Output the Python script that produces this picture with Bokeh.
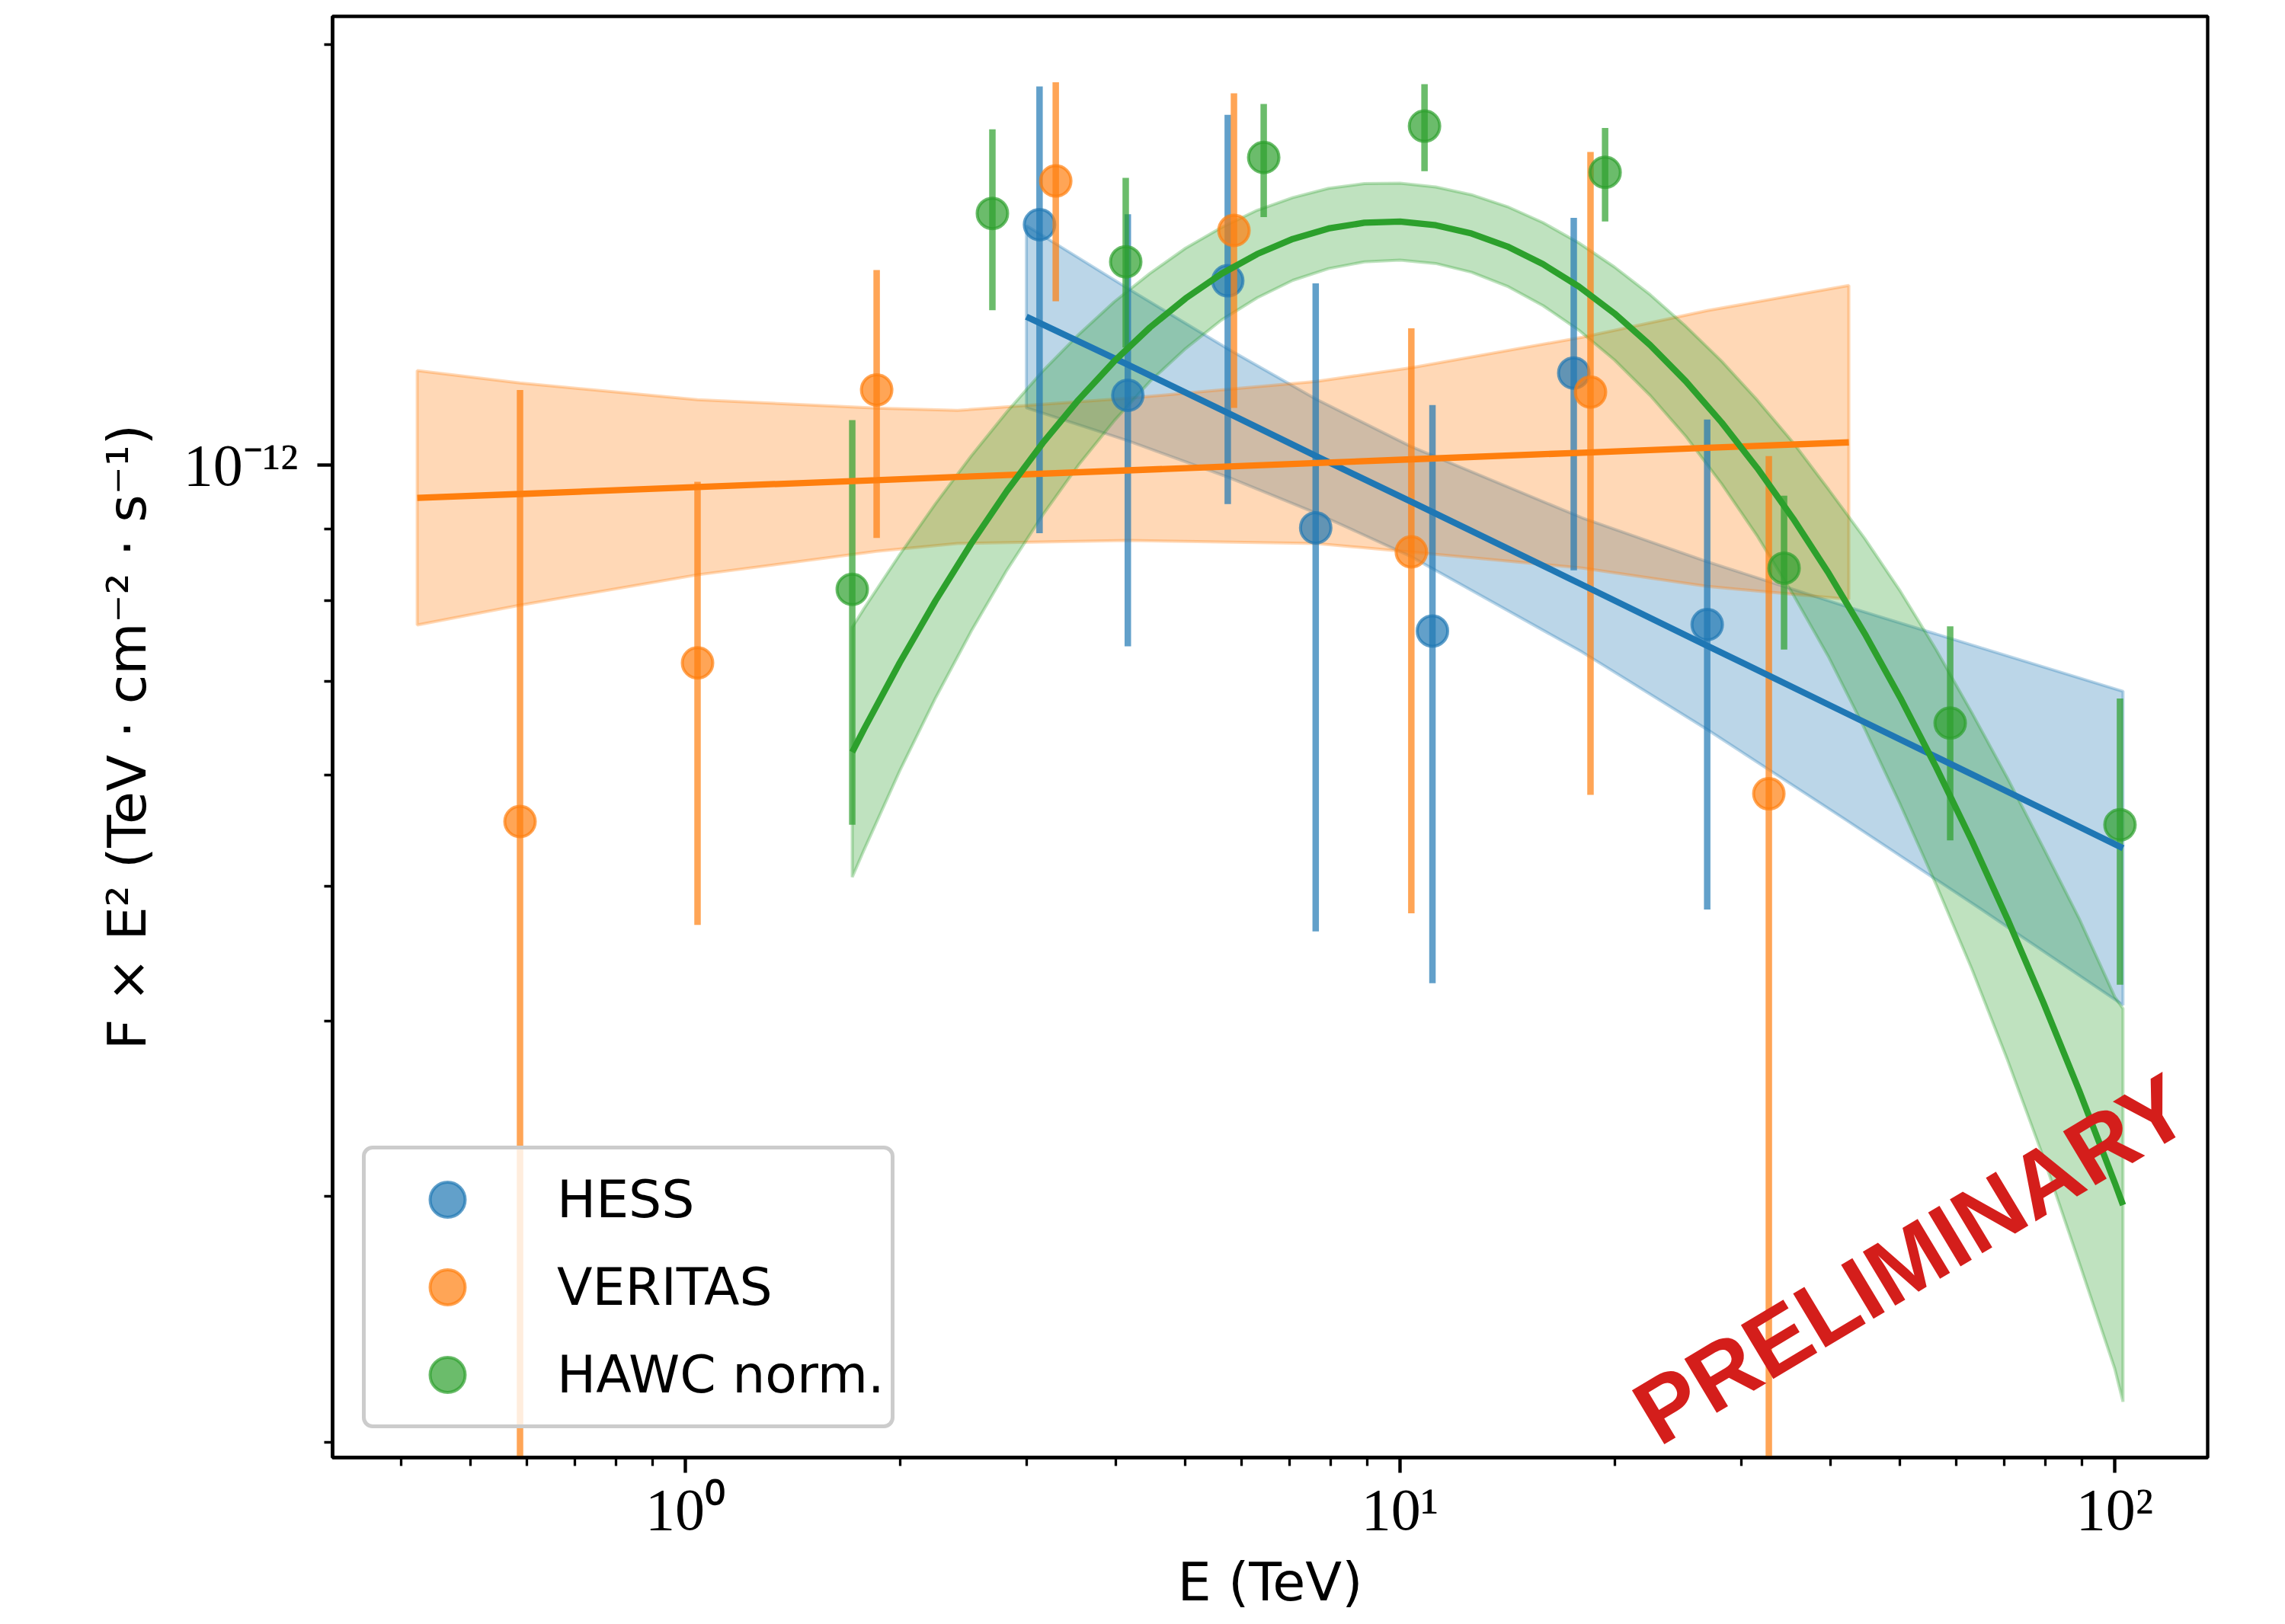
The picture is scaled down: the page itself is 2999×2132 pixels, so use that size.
from bokeh.plotting import figure
from bokeh.models import Range1d, FixedTicker, Legend, LegendItem, Label
from bokeh.embed import file_html
from bokeh.resources import INLINE

# ---------------- data (flux values in units of 1e-12 TeV cm^-2 s^-1) ----------------
SCALE = 1e-12

hess_E  = [3.13, 4.16, 5.74, 7.62, 11.1, 17.5, 26.9]
hess_F  = [1.486, 1.122, 1.355, 0.902, 0.761, 1.164, 0.769]
hess_hi = [1.866, 1.512, 1.781, 1.349, 1.104, 1.503, 1.078]
hess_lo = [0.894, 0.742, 0.938, 0.464, 0.426, 0.841, 0.481]

veritas_E  = [0.587, 1.040, 1.852, 3.298, 5.856, 10.37, 18.47, 32.81]
veritas_F  = [0.556, 0.722, 1.132, 1.597, 1.472, 0.867, 1.128, 0.582]
veritas_hi = [1.132, 0.973, 1.379, 1.879, 1.845, 1.253, 1.675, 1.015]
veritas_lo = [0.010, 0.469, 0.887, 1.310, 1.099, 0.478, 0.581, 0.010]

hawc_E  = [1.712, 2.689, 4.132, 6.445, 10.82, 19.36, 34.46, 58.85, 101.7]
hawc_F  = [0.815, 1.514, 1.398, 1.660, 1.748, 1.620, 0.844, 0.654, 0.553]
hawc_hi = [1.077, 1.739, 1.605, 1.813, 1.873, 1.743, 0.951, 0.767, 0.681]
hawc_lo = [0.553, 1.291, 1.214, 1.505, 1.623, 1.494, 0.738, 0.539, 0.425]

# fitted models: line and band edges
hess_fit_E  = [3.00, 4.16, 5.76, 7.63, 10.37, 17.98, 26.90, 41.94, 65.09, 102.7]
hess_fit_F  = [1.277, 1.180, 1.089, 1.015, 0.9415, 0.8213, 0.7428, 0.6652, 0.5964, 0.5321]
hess_fit_hi = [1.484, 1.338, 1.210, 1.115, 1.031, 0.917, 0.853, 0.793, 0.740, 0.689]
hess_fit_lo = [1.099, 1.041, 0.980, 0.924, 0.860, 0.735, 0.647, 0.558, 0.481, 0.411]

veritas_fit_E  = [0.4215, 0.587, 1.040, 1.852, 2.403, 4.163, 7.633, 10.37, 17.98, 26.90, 42.46]
veritas_fit_F  = [0.9475, 0.9537, 0.9646, 0.9757, 0.9808, 0.9915, 1.0035, 1.0097, 1.0208, 1.0290, 1.0383]
veritas_fit_hi = [1.1685, 1.1451, 1.1138, 1.0987, 1.0945, 1.1166, 1.1480, 1.1742, 1.2346, 1.2899, 1.3445]
veritas_fit_lo = [0.7686, 0.7940, 0.8348, 0.8678, 0.8789, 0.8833, 0.8789, 0.8667, 0.8442, 0.8190, 0.8017]

hawc_fit_E  = [1.712, 1.778, 1.995, 2.239, 2.512, 2.818, 3.162, 3.548, 3.981, 4.467,
               5.012, 5.623, 6.310, 7.079, 7.943, 8.913, 10.00, 11.22, 12.59, 14.13,
               15.85, 17.78, 19.95, 22.39, 25.12, 28.18, 31.62, 35.48, 39.81, 44.67,
               50.12, 56.23, 63.10, 70.79, 79.43, 89.13, 100.0, 102.7]
hawc_fit_F  = [0.6233, 0.6473, 0.7223, 0.7999, 0.8790, 0.9585, 1.0371, 1.1135, 1.1866, 1.2547,
               1.3163, 1.3705, 1.4159, 1.4516, 1.4768, 1.4909, 1.4936, 1.4847, 1.4646, 1.4337,
               1.3926, 1.3424, 1.2840, 1.2187, 1.1479, 1.0729, 0.9950, 0.9158, 0.8364, 0.7580,
               0.6816, 0.6083, 0.5387, 0.4734, 0.4128, 0.3572, 0.3067, 0.2956]
hawc_fit_hi = [0.7657, 0.7897, 0.8631, 0.9387, 1.0154, 1.0919, 1.1676, 1.2397, 1.3087, 1.3715,
               1.4298, 1.4790, 1.5218, 1.5539, 1.5777, 1.5900, 1.5914, 1.5812, 1.5611, 1.5309,
               1.4911, 1.4424, 1.3861, 1.3242, 1.2567, 1.1870, 1.1129, 1.0379, 0.9602, 0.8866,
               0.8125, 0.7381, 0.6652, 0.5971, 0.5325, 0.4741, 0.4166, 0.4086]
hawc_fit_lo = [0.5074, 0.5306, 0.6045, 0.6816, 0.7609, 0.8414, 0.9212, 1.0002, 1.0759, 1.1478,
               1.2118, 1.2699, 1.3174, 1.3560, 1.3824, 1.3979, 1.4018, 1.3941, 1.3741, 1.3427,
               1.3006, 1.2493, 1.1894, 1.1216, 1.0485, 0.9698, 0.8896, 0.8081, 0.7286, 0.6480,
               0.5718, 0.5013, 0.4362, 0.3754, 0.3200, 0.2691, 0.2258, 0.2138]

# axes ticks
x_major = [1, 10, 100]
x_major_labels = ["10⁰", "10¹", "10²"]
x_minor = [0.4, 0.5, 0.6, 0.7, 0.8, 0.9, 2, 3, 4, 5, 6, 7, 8, 9, 20, 30, 40, 50, 60, 70, 80, 90]
y_major = [1e-12]
y_major_labels = ["10⁻¹²"]
y_minor = [2e-13, 3e-13, 4e-13, 5e-13, 6e-13, 7e-13, 8e-13, 9e-13, 2e-12]

series_names = ["HESS", "VERITAS", "HAWC norm."]
colors = ["#1f77b4", "#ff7f0e", "#2ca02c"]

# ---------------- figure ----------------
W, H = 2996, 2130
FRAME_L, FRAME_T, FRAME_R, FRAME_B = 436, 21, 2897, 1913
p = figure(width=W, height=H, x_axis_type="log", y_axis_type="log",
           x_range=Range1d(0.3209, 134.9), y_range=Range1d(1.9503e-13, 2.0944e-12),
           output_backend="svg", toolbar_location=None,
           min_border_left=FRAME_L, min_border_right=W - FRAME_R,
           min_border_top=FRAME_T, min_border_bottom=H - FRAME_B)
p.xgrid.visible = False
p.ygrid.visible = False
p.outline_line_color = "black"
p.outline_line_width = 4.4
p.outline_line_alpha = 1.0
p.background_fill_color = "white"
p.border_fill_color = "white"


def sc(v):
    return [a * SCALE for a in v]


# bands
fits = [
    (hess_fit_E, hess_fit_F, hess_fit_lo, hess_fit_hi),
    (veritas_fit_E, veritas_fit_F, veritas_fit_lo, veritas_fit_hi),
    (hawc_fit_E, hawc_fit_F, hawc_fit_lo, hawc_fit_hi),
]
for (E, F, lo, hi), c in zip(fits, colors):
    xs = list(E) + list(E[::-1])
    ys = sc(hi) + sc(lo[::-1])
    p.patch(xs, ys, fill_color=c, fill_alpha=0.3, line_color=c, line_alpha=0.3, line_width=4)

# data points with error bars
points = [
    (hess_E, hess_F, hess_lo, hess_hi),
    (veritas_E, veritas_F, veritas_lo, veritas_hi),
    (hawc_E, hawc_F, hawc_lo, hawc_hi),
]
legend_items = []
for (E, F, lo, hi), c, name in zip(points, colors, series_names):
    p.segment(x0=E, y0=sc(lo), x1=E, y1=sc(hi), line_color=c, line_alpha=0.7, line_width=8.5)
    pts = p.scatter(E, sc(F), marker="circle", size=40, fill_color=c, fill_alpha=0.7,
                    line_color=c, line_alpha=0.7, line_width=4)
    legend_items.append(LegendItem(label=name, renderers=[pts]))

# fit lines
for (E, F, lo, hi), c in zip(fits, colors):
    p.line(E, sc(F), line_color=c, line_width=8.3)

# axes
xa = p.xaxis[0]
ya = p.yaxis[0]
xa.ticker = FixedTicker(ticks=x_major, minor_ticks=x_minor)
xa.major_label_overrides = dict(zip(x_major, x_major_labels))
ya.ticker = FixedTicker(ticks=y_major, minor_ticks=y_minor)
ya.major_label_overrides = dict(zip(y_major, y_major_labels))
for ax in (xa, ya):
    ax.axis_line_width = 4.4
    ax.axis_line_color = "black"
    ax.major_tick_line_width = 4.4
    ax.minor_tick_line_width = 3.3
    ax.major_tick_line_color = "black"
    ax.minor_tick_line_color = "black"
    ax.major_tick_out = 20
    ax.major_tick_in = 0
    ax.minor_tick_out = 11
    ax.minor_tick_in = 0
    ax.major_label_text_font = "Liberation Serif"
    ax.major_label_text_font_size = "78px"
    ax.major_label_text_color = "black"
    ax.axis_label_text_font = "DejaVu Sans"
    ax.axis_label_text_font_style = "normal"
    ax.axis_label_text_font_size = "70px"
    ax.axis_label_text_color = "black"
xa.axis_label = "E (TeV)"
ya.axis_label = "F × E² (TeV · cm⁻² · s⁻¹)"
xa.major_label_standoff = 4
xa.axis_label_standoff = 8
ya.major_label_standoff = 25
ya.axis_label_standoff = 30

legend = Legend(items=legend_items, location=(39, 38), orientation="vertical",
                label_text_font="DejaVu Sans", label_text_font_size="68px",
                label_text_color="black",
                glyph_width=198, glyph_height=115, label_height=115, spacing=0,
                padding=8, margin=0, label_standoff=45,
                border_line_color="#cccccc", border_line_width=5, border_line_alpha=1.0,
                background_fill_color="white", background_fill_alpha=0.8)
try:
    legend.border_radius = 14
except Exception:
    pass
p.add_layout(legend)

prelim = Label(x=51.9, y=2.706e-13, text="PRELIMINARY", angle=31, angle_units="deg",
               text_align="center", text_baseline="middle", text_color="#d41e1b",
               text_font="Liberation Sans", text_font_style="bold", text_font_size="120px",
               level="overlay")
p.add_layout(prelim)

open("out.html", "w").write(file_html(p, INLINE))
